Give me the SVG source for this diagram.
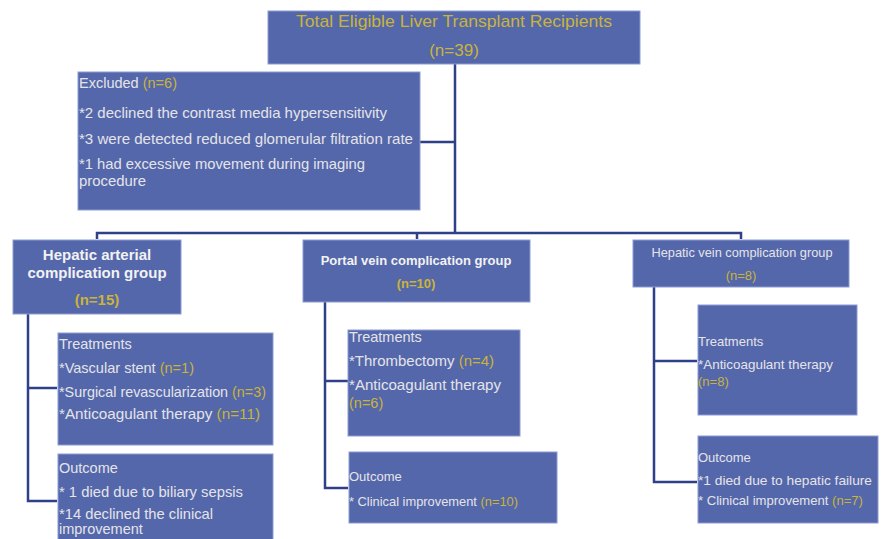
<svg xmlns="http://www.w3.org/2000/svg" width="881" height="539" viewBox="0 0 881 539">
<style>
svg{font-size:13px}
.big{font-size:14.5px}
.box{fill:#5467ab;stroke:#8d9bd3;stroke-width:1}
.t{font-family:"Liberation Sans",Arial,sans-serif;fill:#e4e4e8}
.h{font-family:"Liberation Sans",Arial,sans-serif;fill:#f2f2f2;font-weight:bold}
.y{fill:#c9b43a}
.ln{fill:none;stroke:#2f3f88;stroke-width:2.5}
</style>
<rect width="881" height="539" fill="#ffffff"/>
<g id="connectors">
<path class="ln" d="M455,64 V233"/>
<path class="ln" d="M420,142 H455"/>
<path class="ln" d="M97,239 V233 H741 V239"/>
<path class="ln" d="M417,233 V239"/>
<path class="ln" d="M28,314 V501 H57"/>
<path class="ln" d="M28,388 H57"/>
<path class="ln" d="M325,302 V488 H348"/>
<path class="ln" d="M325,381 H348"/>
<path class="ln" d="M654,287 V482 H697"/>
<path class="ln" d="M654,361 H697"/>
</g>
<g id="total">
<rect class="box" x="268" y="11" width="372" height="53"/>
<text class="t y" x="454" y="27" font-size="17" text-anchor="middle" textLength="316" lengthAdjust="spacingAndGlyphs">Total Eligible Liver Transplant Recipients</text>
<text class="t y" x="454" y="56" font-size="17" text-anchor="middle">(n=39)</text>
</g>
<g id="excluded" class="big">
<rect class="box" x="78" y="72" width="342" height="138"/>
<text class="t" x="79" y="88" textLength="98" lengthAdjust="spacingAndGlyphs">Excluded <tspan class="y">(n=6)</tspan></text>
<text class="t" x="79" y="118" textLength="308" lengthAdjust="spacingAndGlyphs">*2 declined the contrast media hypersensitivity</text>
<text class="t" x="79" y="144" textLength="334" lengthAdjust="spacingAndGlyphs">*3 were detected  reduced glomerular filtration rate</text>
<text class="t" x="79" y="169" textLength="286" lengthAdjust="spacingAndGlyphs">*1 had excessive movement  during  imaging</text>
<text class="t" x="79" y="186" textLength="67" lengthAdjust="spacingAndGlyphs">procedure</text>
</g>
<g id="hepatic-arterial">
<rect class="box" x="13" y="240" width="168" height="74"/>
<text class="h" x="97" y="260" font-size="15" text-anchor="middle">Hepatic arterial</text>
<text class="h" x="97" y="278" font-size="15" text-anchor="middle">complication group</text>
<text class="h y" x="97" y="305" font-size="15" text-anchor="middle">(n=15)</text>
</g>
<g id="ha-treatments" class="big">
<rect class="box" x="58" y="333" width="215" height="112"/>
<text class="t" x="59" y="349">Treatments</text>
<text class="t" x="59" y="373" textLength="135" lengthAdjust="spacingAndGlyphs">*Vascular stent <tspan class="y">(n=1)</tspan></text>
<text class="t" x="59" y="397" textLength="207" lengthAdjust="spacingAndGlyphs">*Surgical revascularization <tspan class="y">(n=3)</tspan></text>
<text class="t" x="59" y="419" textLength="201" lengthAdjust="spacingAndGlyphs">*Anticoagulant therapy  <tspan class="y">(n=11)</tspan></text>
</g>
<g id="ha-outcome" class="big">
<rect class="box" x="58" y="454" width="215" height="90"/>
<text class="t" x="59" y="473">Outcome</text>
<text class="t" x="59" y="497" textLength="184" lengthAdjust="spacingAndGlyphs">* 1 died  due to biliary sepsis</text>
<text class="t" x="59" y="519" textLength="154" lengthAdjust="spacingAndGlyphs">*14 declined the clinical</text>
<text class="t" x="59" y="534">improvement</text>
</g>
<g id="portal">
<rect class="box" x="303" y="240" width="227" height="62"/>
<text class="h" x="416" y="265" font-size="13" text-anchor="middle">Portal vein complication group</text>
<text class="h y" x="416" y="288" font-size="13" text-anchor="middle">(n=10)</text>
</g>
<g id="pv-treatments" class="big">
<rect class="box" x="348" y="330" width="172" height="106"/>
<text class="t" x="349" y="342">Treatments</text>
<text class="t" x="349" y="366" textLength="145" lengthAdjust="spacingAndGlyphs">*Thrombectomy <tspan class="y">(n=4)</tspan></text>
<text class="t" x="349" y="390" textLength="152" lengthAdjust="spacingAndGlyphs">*Anticoagulant therapy</text>
<text class="t y" x="349" y="408">(n=6)</text>
</g>
<g id="pv-outcome">
<rect class="box" x="349" y="452" width="208" height="71"/>
<text class="t" x="349" y="481">Outcome</text>
<text class="t" x="349" y="506" textLength="169" lengthAdjust="spacingAndGlyphs">* Clinical improvement <tspan class="y">(n=10)</tspan></text>
</g>
<g id="hepatic-vein">
<rect class="box" x="633" y="240" width="216" height="47"/>
<text class="t" x="742" y="257" text-anchor="middle" fill="#e8e8e8" textLength="181" lengthAdjust="spacingAndGlyphs">Hepatic vein complication  group</text>
<text class="t y" x="741" y="280" text-anchor="middle">(n=8)</text>
</g>
<g id="hv-treatments">
<rect class="box" x="698" y="305" width="159" height="110"/>
<text class="t" x="698" y="346">Treatments</text>
<text class="t" x="698" y="369" textLength="135" lengthAdjust="spacingAndGlyphs">*Anticoagulant therapy</text>
<text class="t y" x="698" y="386">(n=8)</text>
</g>
<g id="hv-outcome">
<rect class="box" x="698" y="436" width="180" height="87"/>
<text class="t" x="698" y="462">Outcome</text>
<text class="t" x="698" y="485" textLength="174" lengthAdjust="spacingAndGlyphs">*1 died  due to  hepatic failure</text>
<text class="t" x="698" y="505" textLength="165" lengthAdjust="spacingAndGlyphs">* Clinical improvement <tspan class="y">(n=7)</tspan></text>
</g>
</svg>
